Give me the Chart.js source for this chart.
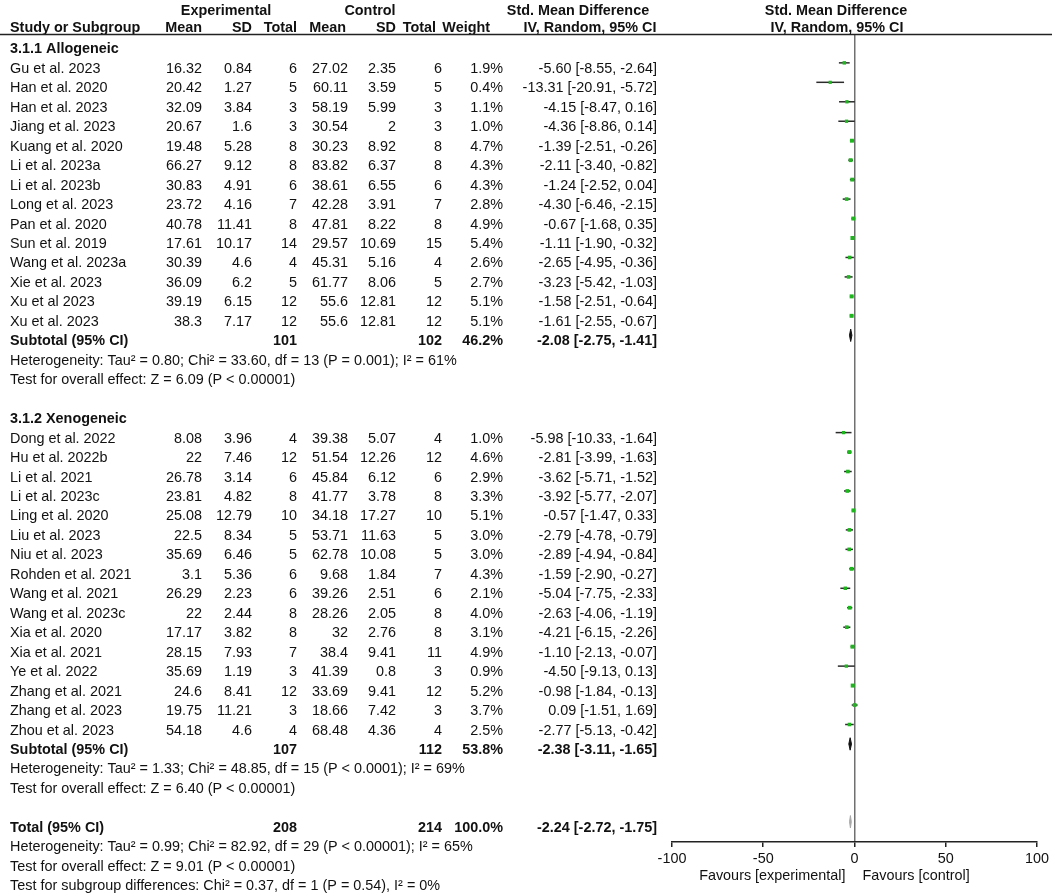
<!DOCTYPE html>
<html lang="en">
<head>
<meta charset="UTF-8">
<title>Forest plot - Std. Mean Difference</title>
<script src="https://cdn.jsdelivr.net/npm/chart.js"></script>
<style>
    html, body { margin: 0; padding: 0; background: #fff; }
    #wrap { position: relative; width: 1052px; height: 893px; }
</style>
</head>
<body>
<div id="wrap"><canvas id="forest"></canvas></div>
<script>
    // 3.1.1 Allogeneic
    const alloNames = ['Gu et al. 2023', 'Han et al. 2020', 'Han et al. 2023', 'Jiang et al. 2023', 'Kuang et al. 2020',
        'Li et al. 2023a', 'Li et al. 2023b', 'Long et al. 2023', 'Pan et al. 2020', 'Sun et al. 2019',
        'Wang et al. 2023a', 'Xie et al. 2023', 'Xu et al 2023', 'Xu et al. 2023'];
    const alloExpMean = [16.32, 20.42, 32.09, 20.67, 19.48, 66.27, 30.83, 23.72, 40.78, 17.61, 30.39, 36.09, 39.19, 38.3];
    const alloExpSD = [0.84, 1.27, 3.84, 1.6, 5.28, 9.12, 4.91, 4.16, 11.41, 10.17, 4.6, 6.2, 6.15, 7.17];
    const alloExpN = [6, 5, 3, 3, 8, 8, 6, 7, 8, 14, 4, 5, 12, 12];
    const alloCtlMean = [27.02, 60.11, 58.19, 30.54, 30.23, 83.82, 38.61, 42.28, 47.81, 29.57, 45.31, 61.77, 55.6, 55.6];
    const alloCtlSD = [2.35, 3.59, 5.99, 2, 8.92, 6.37, 6.55, 3.91, 8.22, 10.69, 5.16, 8.06, 12.81, 12.81];
    const alloCtlN = [6, 5, 3, 3, 8, 8, 6, 7, 8, 15, 4, 5, 12, 12];
    const alloWeight = [1.9, 0.4, 1.1, 1.0, 4.7, 4.3, 4.3, 2.8, 4.9, 5.4, 2.6, 2.7, 5.1, 5.1];
    const alloSmd = [-5.60, -13.31, -4.15, -4.36, -1.39, -2.11, -1.24, -4.30, -0.67, -1.11, -2.65, -3.23, -1.58, -1.61];
    const alloLow = [-8.55, -20.91, -8.47, -8.86, -2.51, -3.40, -2.52, -6.46, -1.68, -1.90, -4.95, -5.42, -2.51, -2.55];
    const alloHigh = [-2.64, -5.72, 0.16, 0.14, -0.26, -0.82, 0.04, -2.15, 0.35, -0.32, -0.36, -1.03, -0.64, -0.67];

    // 3.1.2 Xenogeneic
    const xenoNames = ['Dong et al. 2022', 'Hu et al. 2022b', 'Li et al. 2021', 'Li et al. 2023c', 'Ling et al. 2020',
        'Liu et al. 2023', 'Niu et al. 2023', 'Rohden et al. 2021', 'Wang et al. 2021', 'Wang et al. 2023c',
        'Xia et al. 2020', 'Xia et al. 2021', 'Ye et al. 2022', 'Zhang et al. 2021', 'Zhang et al. 2023', 'Zhou et al. 2023'];
    const xenoExpMean = [8.08, 22, 26.78, 23.81, 25.08, 22.5, 35.69, 3.1, 26.29, 22, 17.17, 28.15, 35.69, 24.6, 19.75, 54.18];
    const xenoExpSD = [3.96, 7.46, 3.14, 4.82, 12.79, 8.34, 6.46, 5.36, 2.23, 2.44, 3.82, 7.93, 1.19, 8.41, 11.21, 4.6];
    const xenoExpN = [4, 12, 6, 8, 10, 5, 5, 6, 6, 8, 8, 7, 3, 12, 3, 4];
    const xenoCtlMean = [39.38, 51.54, 45.84, 41.77, 34.18, 53.71, 62.78, 9.68, 39.26, 28.26, 32, 38.4, 41.39, 33.69, 18.66, 68.48];
    const xenoCtlSD = [5.07, 12.26, 6.12, 3.78, 17.27, 11.63, 10.08, 1.84, 2.51, 2.05, 2.76, 9.41, 0.8, 9.41, 7.42, 4.36];
    const xenoCtlN = [4, 12, 6, 8, 10, 5, 5, 7, 6, 8, 8, 11, 3, 12, 3, 4];
    const xenoWeight = [1.0, 4.6, 2.9, 3.3, 5.1, 3.0, 3.0, 4.3, 2.1, 4.0, 3.1, 4.9, 0.9, 5.2, 3.7, 2.5];
    const xenoSmd = [-5.98, -2.81, -3.62, -3.92, -0.57, -2.79, -2.89, -1.59, -5.04, -2.63, -4.21, -1.10, -4.50, -0.98, 0.09, -2.77];
    const xenoLow = [-10.33, -3.99, -5.71, -5.77, -1.47, -4.78, -4.94, -2.90, -7.75, -4.06, -6.15, -2.13, -9.13, -1.84, -1.51, -5.13];
    const xenoHigh = [-1.64, -1.63, -1.52, -2.07, 0.33, -0.79, -0.84, -0.27, -2.33, -1.19, -2.26, -0.07, 0.13, -0.13, 1.69, -0.42];

    // pooled rows: allogeneic subtotal, xenogeneic subtotal, overall total
    const pooledLabels = ['Subtotal (95% CI)', 'Subtotal (95% CI)', 'Total (95% CI)'];
    const pooledExpN = [101, 107, 208];
    const pooledCtlN = [102, 112, 214];
    const pooledWeight = [46.2, 53.8, 100.0];
    const pooledSmd = [-2.08, -2.38, -2.24];
    const pooledLow = [-2.75, -3.11, -2.72];
    const pooledHigh = [-1.41, -1.65, -1.75];

    const alloNotes = ['Heterogeneity: Tau\u00b2 = 0.80; Chi\u00b2 = 33.60, df = 13 (P = 0.001); I\u00b2 = 61%',
        'Test for overall effect: Z = 6.09 (P < 0.00001)'];
    const xenoNotes = ['Heterogeneity: Tau\u00b2 = 1.33; Chi\u00b2 = 48.85, df = 15 (P < 0.0001); I\u00b2 = 69%',
        'Test for overall effect: Z = 6.40 (P < 0.00001)'];
    const totalNotes = ['Heterogeneity: Tau\u00b2 = 0.99; Chi\u00b2 = 82.92, df = 29 (P < 0.00001); I\u00b2 = 65%',
        'Test for overall effect: Z = 9.01 (P < 0.00001)',
        'Test for subgroup differences: Chi\u00b2 = 0.37, df = 1 (P = 0.54), I\u00b2 = 0%'];

    const axisMin = -100, axisMax = 100, axisStep = 50;

    // build the row list (row index = y value on the hidden scale)
    const allo = {names: alloNames, em: alloExpMean, es: alloExpSD, en: alloExpN, cm: alloCtlMean, cs: alloCtlSD, cn: alloCtlN,
        w: alloWeight, smd: alloSmd, lo: alloLow, hi: alloHigh};
    const xeno = {names: xenoNames, em: xenoExpMean, es: xenoExpSD, en: xenoExpN, cm: xenoCtlMean, cs: xenoCtlSD, cn: xenoCtlN,
        w: xenoWeight, smd: xenoSmd, lo: xenoLow, hi: xenoHigh};

    const rows = [];
    function addGroup(title, g, k, notes) {
        rows.push({type: 'heading', text: title});
        g.names.forEach((n, i) => rows.push({type: 'study', g: g, i: i}));
        rows.push({type: 'pooled', k: k});
        notes.forEach(t => rows.push({type: 'note', text: t}));
        rows.push({type: 'blank'});
    }
    addGroup('3.1.1 Allogeneic', allo, 0, alloNotes);
    addGroup('3.1.2 Xenogeneic', xeno, 1, xenoNotes);
    rows.push({type: 'pooled', k: 2});
    totalNotes.forEach(t => rows.push({type: 'note', text: t}));

    // datasets
    const squares = [], radii = [], ciSets = [], diamondSets = [];
    rows.forEach((row, r) => {
        if (row.type === 'study') {
            const g = row.g, i = row.i;
            squares.push({x: g.smd[i], y: r});
            radii.push(2.2 + 0.12 * g.w[i]);
            ciSets.push({
                data: [{x: g.lo[i], y: r}, {x: g.hi[i], y: r}],
                showLine: true, borderColor: '#2b2b2b', borderWidth: 1.5, pointRadius: 0
            });
        } else if (row.type === 'pooled') {
            const k = row.k, h = 0.32;
            const col = k === 2 ? '#a8a8a8' : '#111';
            diamondSets.push({
                data: [{x: pooledLow[k], y: r}, {x: pooledSmd[k], y: r - h}, {x: pooledHigh[k], y: r},
                       {x: pooledSmd[k], y: r + h}, {x: pooledLow[k], y: r}],
                showLine: true, fill: 'shape', backgroundColor: col, borderColor: col, borderWidth: 1, pointRadius: 0
            });
        }
    });

    const FONT = '"Liberation Sans", Arial, sans-serif';
    const FS = 14.4;
    const col = {expMean: 202, expSD: 252, expN: 297, ctlMean: 348, ctlSD: 396, ctlN: 442, weight: 503, ci: 657};

    const tableText = {
        id: 'tableText',
        afterDraw(chart) {
            const ctx = chart.ctx;
            const ys = chart.scales.y, xs = chart.scales.x;
            ctx.save();
            ctx.fillStyle = '#111';
            ctx.textBaseline = 'alphabetic';
            function t(s, x, y, align, bold) {
                ctx.font = (bold ? 'bold ' : '') + FS + 'px ' + FONT;
                ctx.textAlign = align;
                ctx.fillText(String(s), x, y);
            }
            const ci = (m, l, h) => m.toFixed(2) + ' [' + l.toFixed(2) + ', ' + h.toFixed(2) + ']';

            // header
            t('Experimental', 226, 15, 'center', true);
            t('Control', 370, 15, 'center', true);
            t('Std. Mean Difference', 578, 15, 'center', true);
            t('Std. Mean Difference', 836, 15, 'center', true);
            t('Study or Subgroup', 10, 32, 'left', true);
            t('Mean', col.expMean, 32, 'right', true);
            t('SD', col.expSD, 32, 'right', true);
            t('Total', col.expN, 32, 'right', true);
            t('Mean', 346, 32, 'right', true);
            t('SD', col.ctlSD, 32, 'right', true);
            t('Total', 436, 32, 'right', true);
            t('Weight', 490, 32, 'right', true);
            t('IV, Random, 95% CI', 590, 32, 'center', true);
            t('IV, Random, 95% CI', 837, 32, 'center', true);
            ctx.strokeStyle = '#222';
            ctx.lineWidth = 1.5;
            ctx.beginPath();
            ctx.moveTo(0, 34.5);
            ctx.lineTo(1052, 34.5);
            ctx.stroke();

            rows.forEach((row, r) => {
                const y = ys.getPixelForValue(r) + 10;
                if (row.type === 'heading') {
                    t(row.text, 10, y, 'left', true);
                } else if (row.type === 'note') {
                    t(row.text, 10, y, 'left', false);
                } else if (row.type === 'study') {
                    const g = row.g, i = row.i;
                    t(g.names[i], 10, y, 'left', false);
                    t(g.em[i], col.expMean, y, 'right', false);
                    t(g.es[i], col.expSD, y, 'right', false);
                    t(g.en[i], col.expN, y, 'right', false);
                    t(g.cm[i], col.ctlMean, y, 'right', false);
                    t(g.cs[i], col.ctlSD, y, 'right', false);
                    t(g.cn[i], col.ctlN, y, 'right', false);
                    t(g.w[i].toFixed(1) + '%', col.weight, y, 'right', false);
                    t(ci(g.smd[i], g.lo[i], g.hi[i]), col.ci, y, 'right', false);
                } else if (row.type === 'pooled') {
                    const k = row.k;
                    t(pooledLabels[k], 10, y, 'left', true);
                    t(pooledExpN[k], col.expN, y, 'right', true);
                    t(pooledCtlN[k], col.ctlN, y, 'right', true);
                    t(pooledWeight[k].toFixed(1) + '%', col.weight, y, 'right', true);
                    t(ci(pooledSmd[k], pooledLow[k], pooledHigh[k]), col.ci, y, 'right', true);
                }
            });

            // favours labels either side of zero
            const x0 = xs.getPixelForValue(0);
            t('Favours [experimental]', x0 - 9, 880, 'right', false);
            t('Favours [control]', x0 + 8, 880, 'left', false);
            ctx.restore();
        }
    };

    // vertical scale: one unit per row, placed so row 0 sits at y = 43.4 and rows are 19.46 px apart
    const TOP = 35, BOTTOM = 842, ROW0 = 43.4, PITCH = 19.46;

    new Chart(document.getElementById('forest'), {
        type: 'scatter',
        data: {
            datasets: [{
                data: squares,
                pointStyle: 'rect',
                pointRadius: radii,
                backgroundColor: '#1fb51f',
                borderColor: '#1fb51f',
                borderWidth: 0
            }].concat(diamondSets, ciSets)
        },
        options: {
            responsive: true,
            maintainAspectRatio: false,
            animation: false,
            events: [],
            layout: {padding: {left: 672, right: 14, top: TOP, bottom: 0}},
            plugins: {legend: {display: false}, tooltip: {enabled: false}},
            scales: {
                x: {
                    type: 'linear',
                    min: axisMin,
                    max: axisMax,
                    ticks: {stepSize: axisStep, color: '#111', padding: 3, font: {family: FONT, size: FS}},
                    grid: {
                        color: c => (c.tick && c.tick.value === 0) ? '#707070' : 'rgba(0,0,0,0)',
                        lineWidth: 1.5,
                        tickColor: '#222',
                        tickWidth: 1.5,
                        tickLength: 5
                    },
                    border: {display: true, color: '#222', width: 1.5},
                    afterFit: s => { s.height = 893 - BOTTOM; }
                },
                y: {
                    type: 'linear',
                    display: false,
                    reverse: true,
                    min: (TOP - ROW0) / PITCH,
                    max: (BOTTOM - ROW0) / PITCH
                }
            }
        },
        plugins: [tableText]
    });
</script>
</body>
</html>
